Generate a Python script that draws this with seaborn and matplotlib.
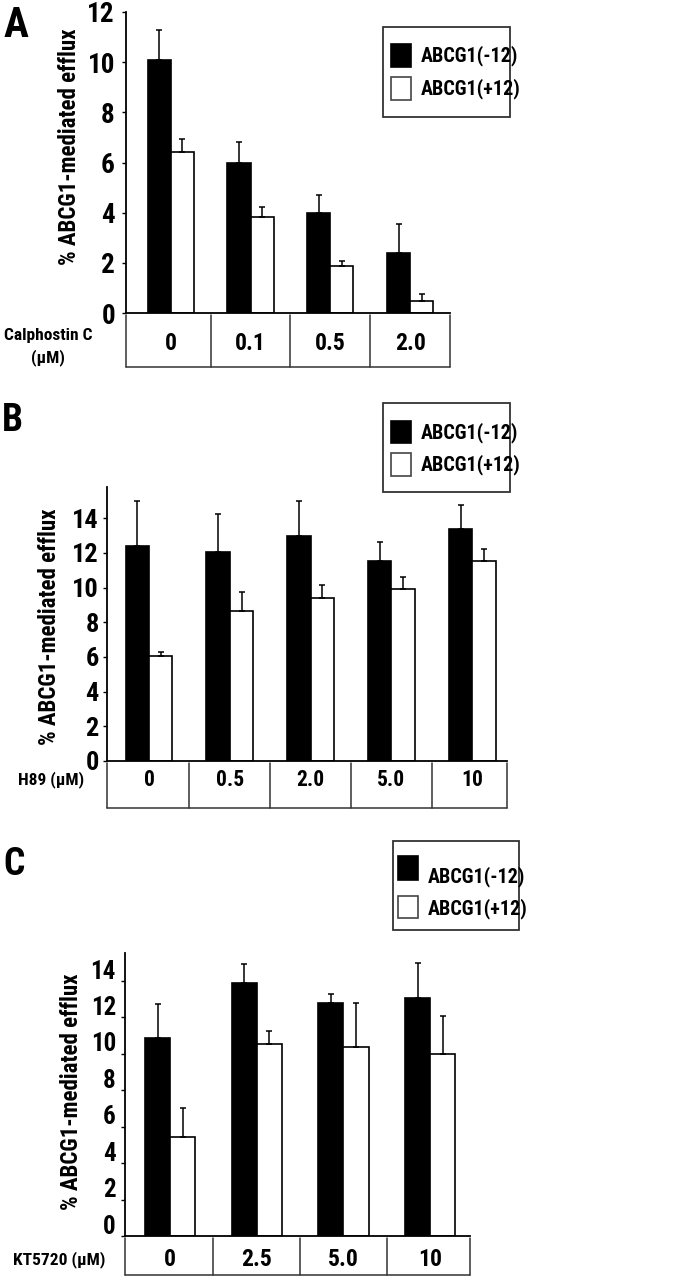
import numpy as np
import pandas as pd
import seaborn as sns
import matplotlib.pyplot as plt
from matplotlib import font_manager
from matplotlib.patches import Rectangle
from matplotlib.transforms import ScaledTranslation, blended_transform_factory

sns.set_style('ticks')

# the figure uses a condensed bold face; take one if it is there
installed = {f.name for f in font_manager.fontManager.ttflist}
narrow = [f for f in ['Liberation Sans Narrow', 'Roboto Condensed', 'Open Sans Condensed',
                      'Arial Narrow'] if f in installed]
base = narrow[0] if narrow else 'Liberation Sans'
k = 1.0 if narrow else 0.86   # wide fallback: shrink the long texts a bit

plt.rcParams['font.family'] = [base, 'DejaVu Sans']
plt.rcParams['font.weight'] = 'bold'
plt.rcParams['axes.labelweight'] = 'bold'
for key in ['text.color', 'axes.labelcolor', 'xtick.color', 'ytick.color']:
    plt.rcParams[key] = 'black'

groups = ['ABCG1(-12)', 'ABCG1(+12)']
pal = {'ABCG1(-12)': 'black', 'ABCG1(+12)': 'white'}
ylab = '% ABCG1-mediated efflux'

# A - calphostin C
calph_dose = ['0', '0.1', '0.5', '2.0']
calph_minus = [10.1, 6.0, 4.0, 2.4]
calph_minus_err = [1.17, 0.83, 0.72, 1.15]
calph_plus = [6.4, 3.82, 1.88, 0.49]
calph_plus_err = [0.52, 0.42, 0.18, 0.28]

# B - H89
h89_dose = ['0', '0.5', '2.0', '5.0', '10']
h89_minus = [12.42, 12.06, 12.96, 11.52, 13.38]
h89_minus_err = [2.58, 2.19, 2.04, 1.08, 1.41]
h89_plus = [6.04, 8.65, 9.38, 9.94, 11.56]
h89_plus_err = [0.23, 1.08, 0.79, 0.69, 0.67]

# C - KT5720
kt_dose = ['0', '2.5', '5.0', '10']
kt_minus = [10.85, 13.89, 12.77, 13.09]
kt_minus_err = [1.91, 1.04, 0.50, 1.91]
kt_plus = [5.42, 10.54, 10.40, 9.99]
kt_plus_err = [1.61, 0.70, 2.41, 2.11]

W, H = 686, 1280
fig = plt.figure(figsize=(W / 100, H / 100), dpi=100)


def fx(x):
    return x / W


def fy(y):
    return 1 - y / H


def draw_panel(box, doses, minus, minus_err, plus, plus_err, ymax, yticks,
               xpad, tick_fs, cat_fs, table_bot, cat_mid, ylab_xy, tick_pad):
    left, right, top, bottom = box
    ax = fig.add_axes([fx(left), fy(bottom), (right - left) / W, (bottom - top) / H])
    n = len(doses)
    df = pd.DataFrame({'dose': doses * 2,
                       'group': [groups[0]] * n + [groups[1]] * n,
                       'value': minus + plus})
    sns.barplot(data=df, x='dose', y='value', hue='group', order=doses,
                hue_order=groups, palette=pal, saturation=1, width=0.58,
                edgecolor='black', linewidth=1.2, errorbar=None,
                legend=False, ax=ax)

    # one-sided error bars on top of each bar
    bars = sorted(ax.patches, key=lambda p: p.get_x())
    errs = [e for pair in zip(minus_err, plus_err) for e in pair]
    xs = [b.get_x() + b.get_width() / 2 for b in bars]
    hs = [b.get_height() for b in bars]
    ax.errorbar(xs, hs, yerr=[np.zeros(len(errs)), errs], fmt='none',
                ecolor='black', elinewidth=1.1, capsize=2, capthick=1.1, zorder=1)

    ax.set_xlim(-xpad[0], n - 1 + xpad[1])
    ax.set_ylim(0, ymax)
    ax.set_yticks(yticks)
    ax.set_yticklabels([str(t) for t in yticks], fontsize=tick_fs, fontweight='bold')
    ax.tick_params(axis='y', length=3, width=1, pad=tick_pad, color='black')
    ax.tick_params(axis='x', length=0, labelbottom=False)
    ax.set_xlabel('')
    ax.set_ylabel(ylab, fontsize=16.5 * k, fontweight='bold', va='center')
    ax.yaxis.set_label_coords((ylab_xy[0] - left) / (right - left),
                              (bottom - ylab_xy[1]) / (bottom - top))
    for side in ['top', 'right']:
        ax.spines[side].set_visible(False)
    for side in ['left', 'bottom']:
        ax.spines[side].set_color('black')
        ax.spines[side].set_linewidth(1.3)

    # dose table under the axis
    hpx = bottom - top
    tr = blended_transform_factory(ax.transData, ax.transAxes)
    y0 = -2 / hpx
    y1 = (bottom - table_bot) / hpx
    x_lo, x_hi = ax.get_xlim()
    edges = [x_lo] + [i + 0.5 for i in range(n - 1)] + [x_hi]
    for e in edges:
        ax.plot([e, e], [y0, y1], color='#333333', lw=1.1, transform=tr, clip_on=False)
    ax.plot([x_lo, x_hi], [y1, y1], color='#333333', lw=1.1, transform=tr, clip_on=False)
    for i, d in enumerate(doses):
        ax.text(i, (bottom - cat_mid) / hpx, d, transform=tr, ha='center',
                va='center', fontsize=cat_fs, fontweight='bold')
    return ax


def add_key(frame, px, rows, tx, fs):
    # boxed key drawn in figure pixels, as in the original figure
    x0, y0, x1, y1 = frame
    fig.add_artist(Rectangle((fx(x0), fy(y1)), (x1 - x0) / W, (y1 - y0) / H,
                             transform=fig.transFigure, fill=False,
                             edgecolor='#333333', lw=1.3))
    for (ya, yb, ty), name in zip(rows, groups):
        fig.add_artist(Rectangle((fx(px[0]), fy(yb)), (px[1] - px[0]) / W, (yb - ya) / H,
                                 transform=fig.transFigure, facecolor=pal[name],
                                 edgecolor='black' if name == groups[0] else '#444444',
                                 lw=1.2))
        fig.text(fx(tx), fy(ty), name, fontsize=fs, fontweight='bold',
                 ha='left', va='center')


# panel A
draw_panel((126, 450, 12, 313), calph_dose, calph_minus, calph_minus_err,
           calph_plus, calph_plus_err, 12, list(range(0, 13, 2)),
           (0.5625, 0.5), 19.5, 17, 367, 343, (70, 147), 5)
add_key((383, 27, 510, 117), (391, 411), [(44, 67, 56), (77, 100, 89)], 421, 14.5 * k)
fig.text(fx(4), fy(5), 'A', fontsize=30, fontweight='bold', va='top')
fig.text(fx(48), fy(347), 'Calphostin C\n(µM)', fontsize=12.5 * k,
         fontweight='bold', ha='center', va='center', linespacing=1.4)

# panel B
draw_panel((107, 507, 487, 761), h89_dose, h89_minus, h89_minus_err,
           h89_plus, h89_plus_err, 15.8, list(range(0, 15, 2)),
           (0.52, 0.43), 19, 15.5, 808, 780, (50, 627), 3)
add_key((383, 403, 510, 492), (391, 411), [(421, 443, 433), (453, 476, 465)], 421, 14.5 * k)
fig.text(fx(2), fy(402), 'B', fontsize=27, fontweight='bold', va='top')
fig.text(fx(18), fy(780), 'H89 (µM)', fontsize=12.5 * k, fontweight='bold',
         ha='left', va='center')

# panel C
axc = draw_panel((125, 470, 953, 1236), kt_dose, kt_minus, kt_minus_err,
                 kt_plus, kt_plus_err, 15.54, list(range(0, 15, 2)),
                 (0.52, 0.46), 18, 17, 1275, 1260, (72, 1092), 3.5)
# labels sit a little above their tick marks in the original
shift = ScaledTranslation(0, 0.12, fig.dpi_scale_trans)
for lab in axc.get_yticklabels():
    lab.set_transform(lab.get_transform() + shift)
add_key((393, 841, 519, 930), (398, 418), [(856, 880, 877), (896, 918, 909)], 428, 14.5 * k)
fig.text(fx(3), fy(846), 'C', fontsize=27, fontweight='bold', va='top')
fig.text(fx(13), fy(1260), 'KT5720 (µM)', fontsize=12.5 * k, fontweight='bold',
         ha='left', va='center')

fig.savefig('out.png', dpi=100, facecolor='white')
